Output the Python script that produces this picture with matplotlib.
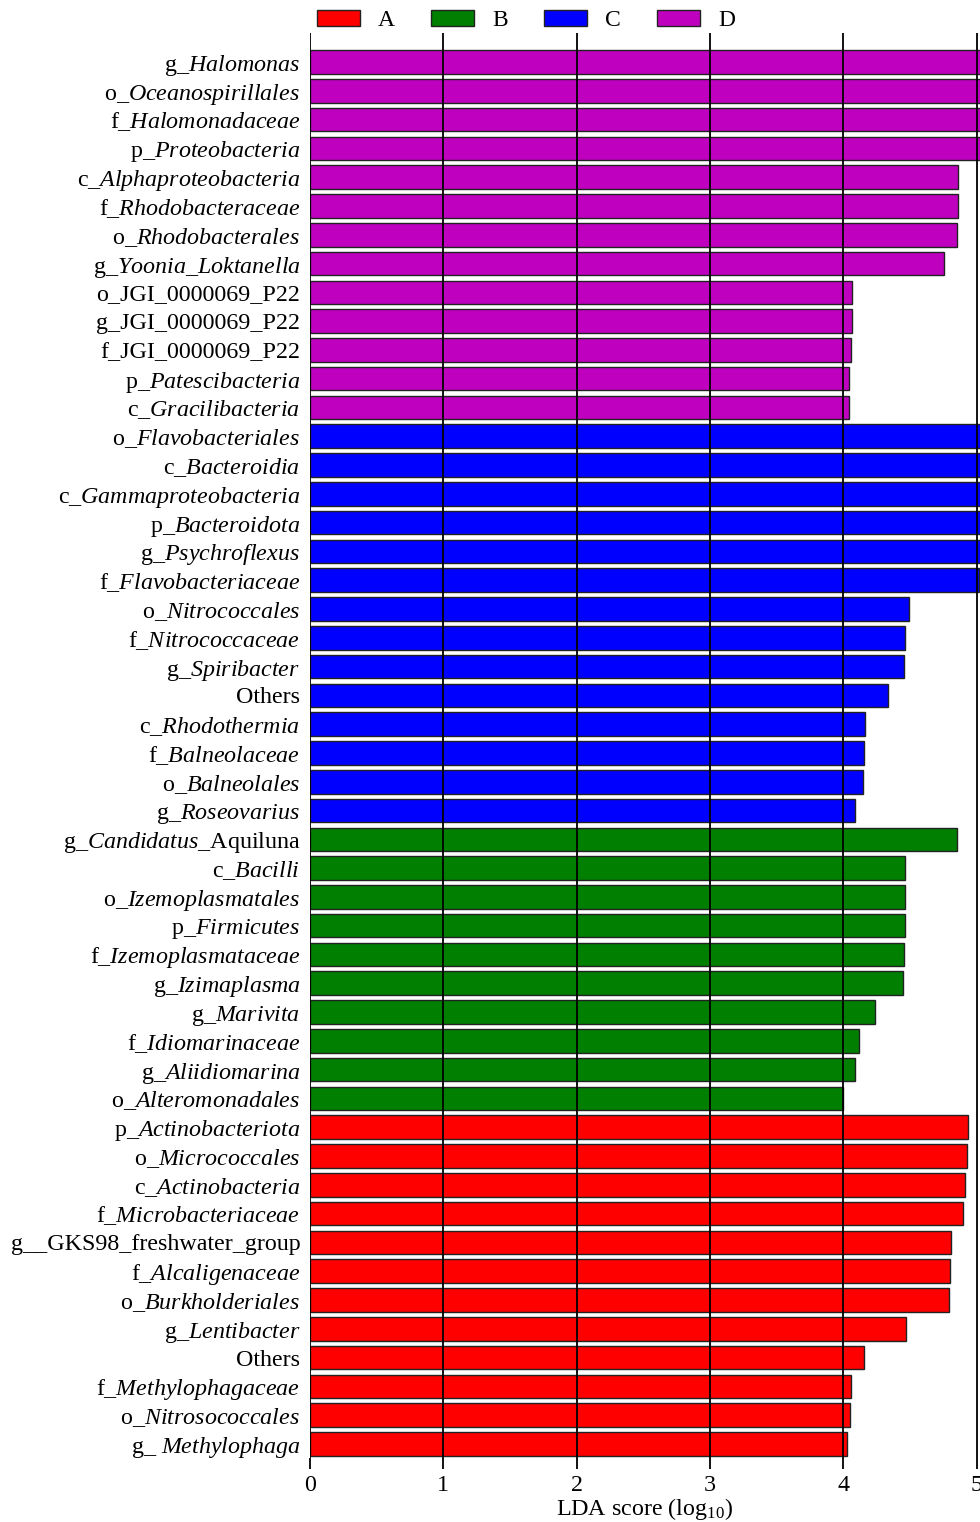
import matplotlib
matplotlib.use("Agg")
import matplotlib.pyplot as plt
from matplotlib.patches import Patch

plt.rcParams['font.family'] = ['Liberation Serif', 'DejaVu Serif']
plt.rcParams['mathtext.fontset'] = 'custom'
plt.rcParams['mathtext.rm'] = 'Liberation Serif'
plt.rcParams['mathtext.it'] = 'Liberation Serif:italic'
plt.rcParams['mathtext.bf'] = 'Liberation Serif:bold'

# ---- data (top to bottom); *...* marks italic parts ----
labels_D = ["g_*Halomonas*", "o_*Oceanospirillales*", "f_*Halomonadaceae*", "p_*Proteobacteria*",
            "c_*Alphaproteobacteria*", "f_*Rhodobacteraceae*", "o_*Rhodobacterales*",
            "g_*Yoonia_Loktanella*", "o_JGI_0000069_P22", "g_JGI_0000069_P22", "f_JGI_0000069_P22",
            "p_*Patescibacteria*", "c_*Gracilibacteria*"]
values_D = [5.30, 5.28, 5.27, 5.20, 4.863, 4.858, 4.855, 4.754, 4.066, 4.066, 4.058, 4.041, 4.039]

labels_C = ["o_*Flavobacteriales*", "c_*Bacteroidia*", "c_*Gammaproteobacteria*", "p_*Bacteroidota*",
            "g_*Psychroflexus*", "f_*Flavobacteriaceae*", "o_*Nitrococcales*", "f_*Nitrococcaceae*",
            "g_*Spiribacter*", "Others", "c_*Rhodothermia*", "f_*Balneolaceae*", "o_*Balneolales*",
            "g_*Roseovarius*"]
values_C = [5.25, 5.24, 5.20, 5.18, 5.10, 5.016, 4.496, 4.464, 4.456, 4.334, 4.166, 4.156, 4.146, 4.091]

labels_B = ["g_*Candidatus*_Aquiluna", "c_*Bacilli*", "o_*Izemoplasmatales*", "p_*Firmicutes*",
            "f_*Izemoplasmataceae*", "g_*Izimaplasma*", "g_*Marivita*", "f_*Idiomarinaceae*",
            "g_*Aliidiomarina*", "o_*Alteromonadales*"]
values_B = [4.853, 4.466, 4.461, 4.461, 4.456, 4.451, 4.236, 4.116, 4.091, 4.001]

labels_A = ["p_*Actinobacteriota*", "o_*Micrococcales*", "c_*Actinobacteria*", "f_*Microbacteriaceae*",
            "g__GKS98_freshwater_group", "f_*Alcaligenaceae*", "o_*Burkholderiales*", "g_*Lentibacter*",
            "Others", "f_*Methylophagaceae*", "o_*Nitrosococcales*", "g_ *Methylophaga*"]
values_A = [4.934, 4.929, 4.909, 4.901, 4.811, 4.801, 4.796, 4.469, 4.156, 4.061, 4.048, 4.029]

groups = ["A", "B", "C", "D"]
colors = {"A": "#FF0000", "B": "#007F00", "C": "#0000FF", "D": "#BF00BF"}
xticks = [0, 1, 2, 3, 4, 5]


def to_mathtext(s):
    parts = s.split("*")
    out = ""
    for k, p in enumerate(parts):
        if p == "":
            continue
        if k % 2 == 1:
            q = p.replace("_", r"\_").replace(" ", r"\ ")
            out += r"$\mathit{" + q + "}$"
        else:
            out += p
    return out


all_labels = labels_D + labels_C + labels_B + labels_A
all_values = values_D + values_C + values_B + values_A
all_groups = ["D"] * len(labels_D) + ["C"] * len(labels_C) + ["B"] * len(labels_B) + ["A"] * len(labels_A)
n = len(all_labels)
ypos = [n - 1 - i for i in range(n)]

W, H = 980, 1522
fig = plt.figure(figsize=(W / 100, H / 100), dpi=100)
left, right = 310 / W, 980 / W
top, bottom = 1 - 33 / H, 1 - 1458 / H
ax = fig.add_axes([left, bottom, right - left, top - bottom])

ax.barh(ypos, all_values, height=0.82, color=[colors[g] for g in all_groups],
        edgecolor="#222222", linewidth=1.0, zorder=2)

ax.set_xlim(0, 5.025)
ax.set_ylim(-0.49, n - 1 + 1.007)
for x in xticks:
    ax.axvline(x, color="black", linewidth=1.3, zorder=3)

for s in ax.spines.values():
    s.set_visible(False)

ax.set_yticks(ypos)
ax.set_yticklabels([to_mathtext(l) for l in all_labels], fontsize=17.3)
ax.tick_params(axis="y", length=0, pad=7)

ax.set_xticks(xticks)
ax.set_xticklabels([str(x) for x in xticks], fontsize=17.3)
ax.tick_params(axis="x", direction="out", length=8, width=1.3, pad=4)
ax.set_xlabel(r"LDA score (log$_{10}$)", fontsize=17.3, labelpad=0)

handles = [Patch(facecolor=colors[g], edgecolor="#222222", linewidth=1.0) for g in groups]
fig.legend(handles, groups, loc="upper left", bbox_to_anchor=(317 / W, 1 - 10 / H),
           ncol=4, frameon=False, fontsize=17, borderpad=0, handlelength=1.82,
           handleheight=0.64, handletextpad=0.75, columnspacing=1.55, borderaxespad=0)

fig.savefig("out.png", dpi=100)
